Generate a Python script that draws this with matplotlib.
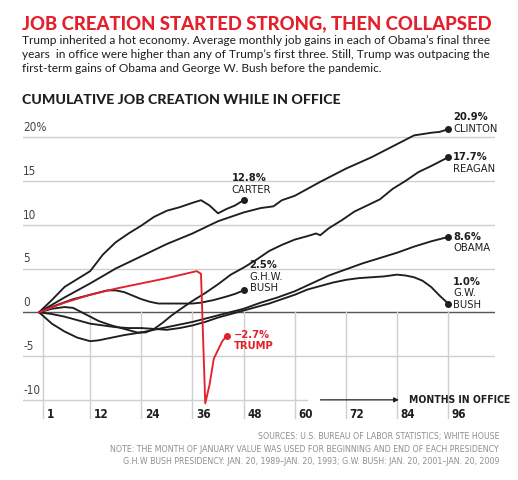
import matplotlib
matplotlib.use("Agg")
import matplotlib.pyplot as plt
from matplotlib import font_manager

# cumulative job growth (%) by month in office
carter_m = [0, 3, 6, 9, 12, 15, 18, 21, 24, 27, 30, 33, 36, 38, 40, 42, 44, 46, 48]
carter_v = [0, 1.4, 2.9, 3.8, 4.7, 6.6, 8.0, 9.0, 9.9, 10.9, 11.6, 12.0, 12.5, 12.8, 12.2, 11.3, 11.8, 12.2, 12.8]

reagan_m = [0, 3, 6, 8, 10, 12, 14, 17, 20, 23, 25, 27, 29, 31, 33, 36, 39, 42, 45, 48,
            51, 54, 57, 60, 63, 65, 66, 68, 71, 74, 77, 80, 83, 86, 89, 92, 94, 96]
reagan_v = [0, 0.4, 0.6, 0.5, 0.0, -0.5, -1.0, -1.5, -1.9, -2.3, -2.3, -1.9, -1.2, -0.4, 0.3,
            1.3, 2.2, 3.2, 4.3, 5.1, 6.0, 7.0, 7.7, 8.3, 8.7, 9.0, 8.8, 9.6, 10.5, 11.5,
            12.2, 12.9, 14.1, 15.0, 16.0, 16.7, 17.2, 17.7]

ghwbush_m = [0, 4, 8, 12, 16, 18, 20, 22, 24, 26, 28, 32, 36, 38, 41, 44, 46, 48]
ghwbush_v = [0, 0.8, 1.5, 2.0, 2.5, 2.5, 2.3, 1.9, 1.5, 1.2, 1.0, 1.0, 1.0, 1.1, 1.4, 1.8, 2.1, 2.5]

clinton_m = [0, 6, 12, 18, 24, 30, 36, 42, 48, 52, 55, 57, 60, 66, 72, 78, 84, 88, 92, 94, 96]
clinton_v = [0, 1.7, 3.3, 5.0, 6.4, 7.8, 9.0, 10.4, 11.4, 11.9, 12.1, 12.8, 13.3, 14.9,
             16.4, 17.7, 19.2, 20.2, 20.5, 20.6, 20.9]

gwbush_m = [0, 3, 6, 9, 12, 15, 18, 21, 24, 27, 30, 33, 36, 39, 42, 45, 48, 51, 54, 57,
            60, 63, 66, 69, 72, 75, 78, 81, 84, 86, 88, 90, 92, 94, 96]
gwbush_v = [0, -0.2, -0.5, -0.9, -1.3, -1.5, -1.7, -1.8, -1.8, -1.9, -2.0, -1.8, -1.5, -1.1,
            -0.6, -0.2, 0.2, 0.6, 1.0, 1.5, 2.0, 2.6, 3.0, 3.4, 3.7, 3.9, 4.0, 4.1, 4.3,
            4.2, 4.0, 3.6, 2.9, 1.9, 1.0]

obama_m = [0, 3, 6, 9, 12, 14, 17, 20, 24, 28, 32, 36, 40, 44, 48, 52, 56, 60, 64, 68,
           72, 76, 80, 84, 88, 92, 96]
obama_v = [0, -1.3, -2.2, -2.9, -3.3, -3.2, -2.9, -2.6, -2.3, -1.9, -1.5, -1.1, -0.6, -0.1,
           0.4, 1.1, 1.7, 2.4, 3.3, 4.2, 4.9, 5.6, 6.2, 6.8, 7.5, 8.1, 8.6]

trump_m = [0, 6, 12, 18, 24, 30, 37, 38, 39, 40, 41, 42, 43, 44]
trump_v = [0, 1.1, 2.0, 2.7, 3.3, 3.9, 4.7, 4.4, -10.4, -8.3, -5.3, -4.3, -3.3, -2.7]

series = [
    ("carter", carter_m, carter_v),
    ("reagan", reagan_m, reagan_v),
    ("ghwbush", ghwbush_m, ghwbush_v),
    ("clinton", clinton_m, clinton_v),
    ("gwbush", gwbush_m, gwbush_v),
    ("obama", obama_m, obama_v),
]

month_ticks = [1, 12, 24, 36, 48, 60, 72, 84, 96]
pct_ticks = [20, 15, 10, 5, 0, -5, -10]
pct_labels = ["20%", "15", "10", "5", "0", "-5", "-10"]

RED = "#e3202b"
INK = "#1e1e1e"
GRID = "#cfcfcf"
HEAVY = ["Lato", "DejaVu Sans"]

# condensed face for the small chart text
cond = [f.fname for f in font_manager.fontManager.ttflist
        if f.name == "DejaVu Sans" and f.stretch == "condensed" and f.weight == 400 and f.style == "normal"]
cond_b = [f.fname for f in font_manager.fontManager.ttflist
          if f.name == "DejaVu Sans" and f.stretch == "condensed" and f.weight == 700 and f.style == "normal"]
if cond and cond_b:
    NARROW = font_manager.FontProperties(fname=cond[0])
    NARROW_B = font_manager.FontProperties(fname=cond_b[0])
else:
    NARROW = font_manager.FontProperties(family="DejaVu Sans")
    NARROW_B = font_manager.FontProperties(family="DejaVu Sans", weight="bold")


def fp(bold, size):
    p = (NARROW_B if bold else NARROW).copy()
    p.set_size(size)
    return p


fig = plt.figure(figsize=(5.18, 4.8), dpi=100)
fig.patch.set_facecolor("white")

fig.text(22 / 518, 1 - 24 / 480, "JOB CREATION STARTED STRONG, THEN COLLAPSED",
         color=RED, fontsize=13.3, fontweight="black", family=HEAVY, va="center")
fig.text(22 / 518, 1 - 35 / 480,
         "Trump inherited a hot economy. Average monthly job gains in each of Obama\u2019s final three\n"
         "years  in office were higher than any of Trump\u2019s first three. Still, Trump was outpacing the\n"
         "first-term gains of Obama and George W. Bush before the pandemic.",
         color=INK, fontsize=8.6, family=HEAVY, va="top", linespacing=1.32)
fig.text(22 / 518, 1 - 100 / 480, "CUMULATIVE JOB CREATION WHILE IN OFFICE",
         color=INK, fontsize=10.2, fontweight="black", family=HEAVY, va="center")

ax = fig.add_axes([23 / 518, 1 - 420 / 480, 472 / 518, 310 / 480])
ax.set_xlim(-3.77, 107.0)
ax.set_ylim(-12.3, 23.1)
for s in ax.spines.values():
    s.set_visible(False)
ax.set_xticks([])
ax.set_yticks([])

# horizontal grid
for t, lab in zip(pct_ticks, pct_labels):
    if t == 0:
        ax.axhline(0, color="#555555", lw=1.0, zorder=1)
    elif t == -10:
        ax.plot([-3.77, 62.9], [t, t], color=GRID, lw=1.0, zorder=1)
    else:
        ax.axhline(t, color=GRID, lw=1.0, zorder=1)
    ax.text(-3.77, t + 0.35, lab, ha="left", va="bottom", fontproperties=fp(False, 8.4),
            color="#444444")

# vertical grid below zero, labels to the right
for m in month_ticks:
    ax.plot([m, m], [0, -12.1], color=GRID, lw=1.0, zorder=1)
    ax.text(m + 0.8, -11.7, str(m), ha="left", va="center", fontproperties=fp(True, 8.4),
            color=INK)

ax.annotate("", xy=(85.1, -10), xytext=(65.4, -10),
            arrowprops=dict(arrowstyle="-|>", color=INK, lw=0.9, mutation_scale=7))
ax.text(86.9, -10, "MONTHS IN OFFICE", ha="left", va="center", fontproperties=fp(True, 7.5),
        color=INK)

for name, m, v in series:
    ax.plot(m, v, color=INK, lw=1.35, zorder=3, solid_capstyle="round")
    ax.plot(m[-1], v[-1], "o", color=INK, ms=4, zorder=4)
ax.plot(trump_m, trump_v, color=RED, lw=1.35, zorder=5)
ax.plot(trump_m[-1], trump_v[-1], "o", color=RED, ms=4, zorder=6)


def end_label(x, y, dx, dy, lines, color=INK):
    for i, (txt, bold) in enumerate(lines):
        ax.annotate(txt, xy=(x, y), xytext=(dx, dy - 11.5 * i), textcoords="offset pixels",
                    ha="left", va="center", fontproperties=fp(bold, 8.0), color=color)


end_label(clinton_m[-1], clinton_v[-1], 5, 12, [("20.9%", True), ("CLINTON", False)])
end_label(reagan_m[-1], reagan_v[-1], 5, 0, [("17.7%", True), ("REAGAN", False)])
end_label(obama_m[-1], obama_v[-1], 5, 0, [("8.6%", True), ("OBAMA", False)])
end_label(gwbush_m[-1], gwbush_v[-1], 5, 22, [("1.0%", True), ("G.W.", False), ("BUSH", False)])
end_label(ghwbush_m[-1], ghwbush_v[-1], 6, 25, [("2.5%", True), ("G.H.W.", False), ("BUSH", False)])
end_label(carter_m[-1], carter_v[-1], -12, 22, [("12.8%", True), ("CARTER", False)])
end_label(trump_m[-1], trump_v[-1], 7, 1, [("\u22122.7%", True), ("TRUMP", True)], color=RED)

fig.text(499 / 518, 1 - 449 / 480,
         "SOURCES: U.S. BUREAU OF LABOR STATISTICS; WHITE HOUSE\n"
         "NOTE: THE MONTH OF JANUARY VALUE WAS USED FOR BEGINNING AND END OF EACH PRESIDENCY\n"
         "G.H.W BUSH PRESIDENCY: JAN. 20, 1989\u2013JAN. 20, 1993; G.W. BUSH: JAN. 20, 2001\u2013JAN. 20, 2009",
         ha="right", va="center", fontproperties=fp(False, 6.3), color="#8f8f8f",
         linespacing=1.45, ma="right")

fig.savefig("out.png", dpi=100, facecolor="white")
